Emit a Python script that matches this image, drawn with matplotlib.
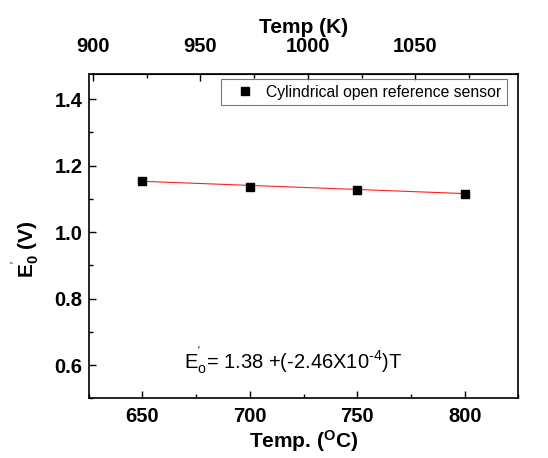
import numpy as np
import matplotlib
matplotlib.use("Agg")
import matplotlib.pyplot as plt
from matplotlib.ticker import MultipleLocator, FixedLocator

plt.rcParams['font.family'] = ['Liberation Sans', 'DejaVu Sans']
plt.rcParams['mathtext.fontset'] = 'custom'
plt.rcParams['mathtext.rm'] = 'Liberation Sans'
plt.rcParams['mathtext.bf'] = 'Liberation Sans:bold'
plt.rcParams['mathtext.it'] = 'Liberation Sans:italic'

# Measured open-circuit potential vs. furnace temperature
temp_c = [650, 700, 750, 800]
e0_volts = [1.153, 1.135, 1.128, 1.114]

# Kelvin ticks on the top axis
kelvin_major = [900, 950, 1000, 1050]
kelvin_minor = [925, 975, 1025, 1075]

# Linear fit reported on the plot (T in kelvin)
fit_intercept = 1.38
fit_slope = -2.46e-4
kelvin_offset = 273

series_label = "Cylindrical open reference sensor"
equation_text = r"E$_\mathrm{o}^{'}$= 1.38 +(-2.46X10$^{\text{-}4}$)T"

fig = plt.figure(figsize=(5.48, 4.58), dpi=100)
ax = fig.add_axes([0.162, 0.130, 0.784, 0.708])

t_fit = np.array([temp_c[0], temp_c[-1]], dtype=float)
e_fit = fit_intercept + fit_slope * (t_fit + kelvin_offset)
ax.plot(t_fit, e_fit, color='#ff2020', lw=0.8, zorder=2)
ax.plot(temp_c, e0_volts, 's', color='black', ms=5.6, ls='none',
        label=series_label, zorder=3)

ax.set_xlim(625, 825)
ax.set_ylim(0.5, 1.475)
ax.xaxis.set_major_locator(MultipleLocator(50))
ax.xaxis.set_minor_locator(MultipleLocator(25))
ax.yaxis.set_major_locator(MultipleLocator(0.2))
ax.yaxis.set_minor_locator(MultipleLocator(0.1))

ax.tick_params(which='both', direction='in', top=False, right=False,
               width=1.0)
ax.tick_params(which='major', length=5, labelsize=14.5)
ax.tick_params(axis='x', which='major', pad=6)
ax.tick_params(axis='y', which='major', pad=4.5)
ax.tick_params(which='minor', length=3)
for lbl in ax.get_xticklabels() + ax.get_yticklabels():
    lbl.set_fontweight('bold')
for sp in ax.spines.values():
    sp.set_linewidth(1.2)

ax.set_xlabel(r"Temp. ($^\mathbf{O}$C)", fontsize=15, fontweight='bold',
              labelpad=2)
ax.set_ylabel(r"$\mathbf{E}_\mathbf{0}^{'}$ (V)", fontsize=15,
              fontweight='bold')
ax.yaxis.set_label_coords(-0.11, 0.46)

top = ax.secondary_xaxis('top', functions=(lambda c: c + kelvin_offset,
                                           lambda k: k - kelvin_offset))
top.xaxis.set_major_locator(FixedLocator(kelvin_major))
top.xaxis.set_minor_locator(FixedLocator(kelvin_minor))
top.tick_params(which='both', direction='in', width=1.0)
top.tick_params(which='major', length=5, labelsize=14.5, pad=13)
top.tick_params(which='minor', length=3)
for lbl in top.get_xticklabels():
    lbl.set_fontweight('bold')
top.set_xlabel("Temp (K)", fontsize=15, fontweight='bold', labelpad=3)

leg = ax.legend(loc='upper right', bbox_to_anchor=(0.9737, 0.9846),
                borderaxespad=0, fontsize=11.3, frameon=True, fancybox=False,
                handlelength=2.4, handletextpad=0.15, borderpad=0.35)
leg.get_frame().set_edgecolor('#555555')
leg.get_frame().set_linewidth(0.8)

ax.text(0.476, 0.093, equation_text, transform=ax.transAxes, ha='center',
        va='baseline', fontsize=14.5)

fig.savefig("out.png", dpi=100)
